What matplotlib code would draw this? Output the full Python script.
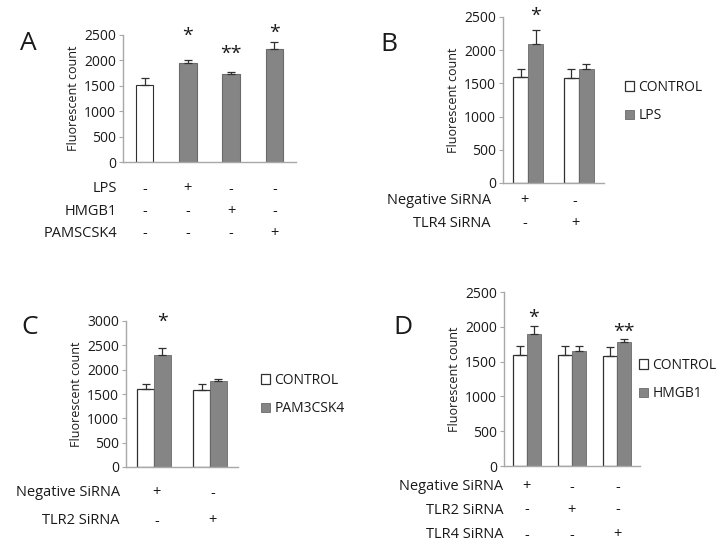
import matplotlib
matplotlib.use("Agg")
import matplotlib.pyplot as plt
import matplotlib.transforms as mtransforms
import numpy as np

plt.rcParams['font.family'] = ['Open Sans', 'DejaVu Sans']

# panel A
a_means = [1520, 1950, 1730, 2220]
a_err = [130, 60, 50, 140]
a_stars = ['', '*', '**', '*']
a_star_y = [0, 2480, 2130, 2540]
a_rows = ['LPS', 'HMGB1', 'PAMSCSK4']
a_signs = [['-', '+', '-', '-'], ['-', '-', '+', '-'], ['-', '-', '-', '+']]

# panel B
b_ctrl = [1600, 1580]
b_ctrl_err = [120, 130]
b_lps = [2100, 1710]
b_lps_err = [210, 80]
b_stars = ['*', '']
b_star_y = [2510, 0]
b_rows = ['Negative SiRNA', 'TLR4 SiRNA']
b_signs = [['+', '-'], ['-', '+']]

# panel C
c_ctrl = [1600, 1590]
c_ctrl_err = [110, 120]
c_pam = [2310, 1770]
c_pam_err = [130, 30]
c_stars = ['*', '']
c_star_y = [2980, 0]
c_rows = ['Negative SiRNA', 'TLR2 SiRNA']
c_signs = [['+', '-'], ['-', '+']]

# panel D
d_ctrl = [1600, 1590, 1580]
d_ctrl_err = [120, 140, 130]
d_hmgb = [1900, 1650, 1780]
d_hmgb_err = [110, 70, 50]
d_stars = ['*', '', '**']
d_star_y = [2130, 0, 1930]
d_rows = ['Negative SiRNA', 'TLR2 SiRNA', 'TLR4 SiRNA']
d_signs = [['+', '-', '-'], ['-', '+', '-'], ['-', '-', '+']]

W, H = 722, 556
GRAY = '#858585'
GRAY_EDGE = '#6a6a6a'
SPINE = '#a8a8a8'
TXT = '#1a1a1a'
TICK_FS = 10
TABLE_FS = 10.5
LEG_FS = 10

fig = plt.figure(figsize=(W / 100, H / 100), dpi=100)


def make_axes(x0, x1, ytop, ybot):
    return fig.add_axes([x0 / W, 1 - ybot / H, (x1 - x0) / W, (ybot - ytop) / H])


def style(ax, ymax):
    ax.set_ylim(0, ymax)
    ax.set_yticks(np.arange(0, ymax + 1, 500))
    for s in ['top', 'right']:
        ax.spines[s].set_visible(False)
    for s in ['left', 'bottom']:
        ax.spines[s].set_color(SPINE)
        ax.spines[s].set_linewidth(1)
    ax.tick_params(axis='y', length=3, color=SPINE, labelsize=TICK_FS, labelcolor=TXT, pad=2)
    ax.set_xticks([])
    ax.set_ylabel('Fluorescent count', fontsize=9, color=TXT, labelpad=3)


def table(ax, xs, rows, signs, ys, label_x):
    tr = mtransforms.blended_transform_factory(ax.transData, fig.transFigure)
    for row, sg, y in zip(rows, signs, ys):
        fig.text(label_x / W, 1 - y / H, row, ha='right', va='center', fontsize=TABLE_FS, color=TXT)
        for x, s in zip(xs, sg):
            ax.text(x, 1 - y / H, s, transform=tr, ha='center', va='center',
                    fontsize=TABLE_FS, color=TXT, clip_on=False)


def stars(ax, xs, labels, ys):
    for x, s, y in zip(xs, labels, ys):
        if s:
            ax.text(x, y, s, ha='center', va='center', fontsize=14, color=TXT, clip_on=False)


def grouped(ax, ctrl, ctrl_err, trt, trt_err, trt_name, width=0.3):
    n = len(ctrl)
    x = np.arange(n)
    ax.bar(x - width / 2, ctrl, width, color='white', edgecolor='#303030', linewidth=0.9,
           yerr=[np.zeros(n), ctrl_err], capsize=3,
           error_kw=dict(ecolor='#303030', elinewidth=0.9, capthick=0.9), label='CONTROL')
    ax.bar(x + width / 2, trt, width, color=GRAY, edgecolor=GRAY_EDGE, linewidth=0.6,
           yerr=[np.zeros(n), trt_err], capsize=3,
           error_kw=dict(ecolor='#303030', elinewidth=0.9, capthick=0.9), label=trt_name)
    ax.set_xlim(-0.5, n - 0.5)
    return x


def legend(ax, lx, ly):
    ax.legend(loc='upper left', bbox_to_anchor=(lx / W, 1 - ly / H),
              bbox_transform=fig.transFigure, frameon=False, fontsize=LEG_FS,
              handlelength=0.65, handleheight=0.65, handletextpad=0.3,
              labelspacing=0.95, borderpad=0, borderaxespad=0,
              labelcolor=TXT)


# ---- A ----
axA = make_axes(123, 296, 35, 162)
xa = np.arange(len(a_means))
n = len(a_means)
colors = ['white'] + [GRAY] * (n - 1)
edges = ['#303030'] + [GRAY_EDGE] * (n - 1)
axA.bar(xa, a_means, 0.4, color=colors, edgecolor=edges, linewidth=0.8,
        yerr=[np.zeros(n), a_err], capsize=3,
        error_kw=dict(ecolor='#303030', elinewidth=0.9, capthick=0.9))
axA.set_xlim(-0.5, n - 0.5)
style(axA, 2500)
stars(axA, xa, a_stars, a_star_y)
table(axA, xa, a_rows, a_signs, [189, 211, 233], 117)
fig.text(28 / W, 1 - 43 / H, 'A', fontsize=19, ha='center', va='center', color=TXT)

# ---- B ----
axB = make_axes(503, 604, 17, 183)
xb = grouped(axB, b_ctrl, b_ctrl_err, b_lps, b_lps_err, 'LPS')
style(axB, 2500)
stars(axB, xb + 0.15, b_stars, b_star_y)
table(axB, xb - 0.07, b_rows, b_signs, [201, 224], 491)
legend(axB, 625, 80)
fig.text(389 / W, 1 - 45 / H, 'B', fontsize=19, ha='center', va='center', color=TXT)

# ---- C ----
axC = make_axes(126, 238, 321, 467)
xc = grouped(axC, c_ctrl, c_ctrl_err, c_pam, c_pam_err, 'PAM3CSK4')
style(axC, 3000)
stars(axC, xc + 0.15, c_stars, c_star_y)
table(axC, xc + 0.05, c_rows, c_signs, [493, 521], 120)
legend(axC, 261, 373)
fig.text(30 / W, 1 - 328 / H, 'C', fontsize=19, ha='center', va='center', color=TXT)

# ---- D ----
axD = make_axes(504, 640, 292, 466)
xd = grouped(axD, d_ctrl, d_ctrl_err, d_hmgb, d_hmgb_err, 'HMGB1', width=0.31)
style(axD, 2500)
stars(axD, xd + 0.155, d_stars, d_star_y)
table(axD, xd, d_rows, d_signs, [487, 510, 535], 503)
legend(axD, 639, 358)
fig.text(403 / W, 1 - 327 / H, 'D', fontsize=19, ha='center', va='center', color=TXT)

fig.savefig('out.png', dpi=100, facecolor='white')
